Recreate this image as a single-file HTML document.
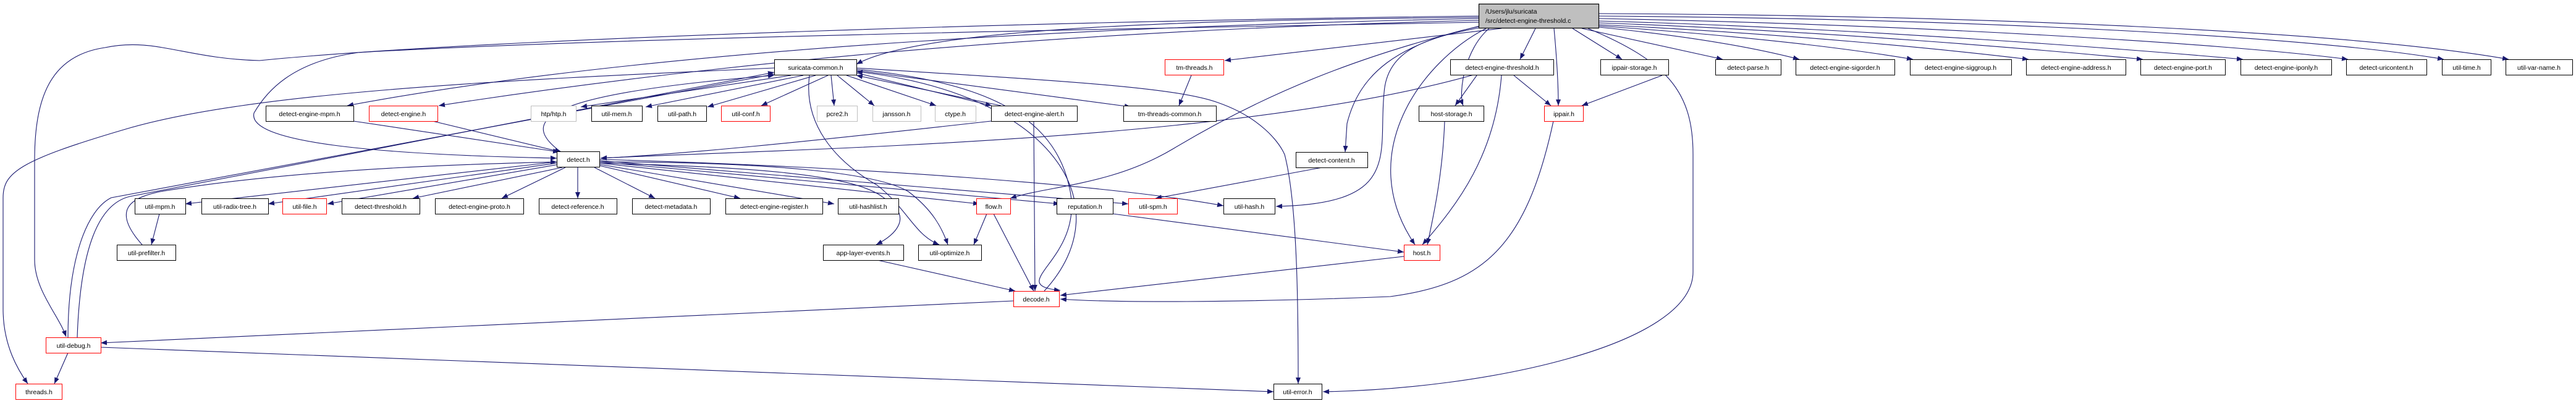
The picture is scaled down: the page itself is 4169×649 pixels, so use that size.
<!DOCTYPE html>
<html><head><meta charset="utf-8"><style>
html,body{margin:0;padding:0;background:#fff;}
svg{display:block;}
text{font-family:"Liberation Sans",sans-serif;font-size:10.5px;fill:#000;}
</style></head><body>
<svg width="4169" height="649" viewBox="0 0 4169 649" xmlns="http://www.w3.org/2000/svg">
<defs>
<marker id="a" markerWidth="10" markerHeight="8" refX="10" refY="4" orient="auto" markerUnits="userSpaceOnUse">
<path d="M0,0 L10,4 L0,8 Z" fill="#191970"/>
</marker>
</defs>
<g fill="none" stroke="#191970" stroke-width="1.1" marker-end="url(#a)">
<path d="M2588,22 C3200,25 3800,50 4060,96"/>
<path d="M2588,26 C3200,30 3750,60 3955,96"/>
<path d="M2588,30 C3100,40 3600,70 3800,96"/>
<path d="M2588,34 C3000,45 3450,80 3630,96"/>
<path d="M2588,37 C2950,50 3300,80 3468,96"/>
<path d="M2588,40 C2900,55 3150,80 3283,96"/>
<path d="M2588,42 C2850,60 3000,80 3096,96"/>
<path d="M2588,44 C2750,60 2850,80 2912,96"/>
<path d="M2560,46 L2788,96"/>
<path d="M2545,46 L2625,96"/>
<path d="M2515,46 C2520,100 2522,140 2522,171"/>
<path d="M2485,46 L2460,96"/>
<path d="M2430,46 L1982,98"/>
<path d="M2410,46 C2370,80 2360,150 2368,171"/>
<path d="M2405,46 C2300,100 2190,250 2290,396"/>
<path d="M2400,44 C2310,60 2245,80 2240,150 C2230,250 2270,330 2065,334"/>
<path d="M2398,42 C2260,70 2200,120 2180,200 L2177,246"/>
<path d="M2395,42 C2200,90 2050,150 1900,240 C1800,300 1700,300 1635,321"/>
<path d="M2570,46 C2700,100 2740,150 2740,250 L2740,440 C2740,560 2400,630 2141,634"/>
<path d="M2393,28 C2000,32 1500,40 1386,104"/>
<path d="M2393,30 C1900,40 1100,70 562,171"/>
<path d="M2393,33 C1900,45 1300,80 710,171"/>
<path d="M2393,26 C1800,32 800,60 420,98 C300,95 250,60 170,77 C80,90 56,160 56,260 L56,420 C56,470 95,510 107,545"/>
<path d="M2393,36 C1900,45 1000,60 580,85 C470,100 430,150 411,183 C400,230 600,250 901,256"/>
<path d="M2385,121 C2000,230 1300,240 972,256"/>
<path d="M2390,122 L2355,171"/>
<path d="M2430,122 C2420,250 2360,330 2302,396"/>
<path d="M2450,122 L2510,171"/>
<path d="M2338,196 C2335,280 2320,350 2310,396"/>
<path d="M2690,122 L2560,171"/>
<path d="M2514,196 C2470,400 2400,460 2250,480 C2000,490 1800,490 1716,484"/>
<path d="M2272,415 L1716,478"/>
<path d="M1928,122 L1908,171"/>
<path d="M1253,110 C800,130 400,150 200,210 C30,260 5,280 5,320 L5,500 C5,560 30,600 45,621"/>
<path d="M1280,122 L940,173"/>
<path d="M1300,122 L1045,173"/>
<path d="M1320,122 L1145,173"/>
<path d="M1340,122 L1232,171"/>
<path d="M1345,122 L1350,171"/>
<path d="M1355,122 L1415,171"/>
<path d="M1370,122 L1515,171"/>
<path d="M1386,118 L1605,171"/>
<path d="M1386,114 L1830,173"/>
<path d="M1386,112 C1560,130 1700,170 1730,300 C1760,420 1620,460 1716,470"/>
<path d="M1386,110 C1700,130 1900,140 1971,166 C2040,190 2070,230 2079,250 C2100,330 2101,500 2101,621"/>
<path d="M1310,122 C1300,200 1350,260 1420,300 C1470,340 1480,380 1520,396"/>
<path d="M125,546 C130,400 160,330 210,318 L1253,117"/>
<path d="M110,546 C110,420 140,340 180,320 L1253,120"/>
<path d="M908,246 C830,190 900,150 1253,122"/>
<path d="M1620,171 L1386,122"/>
<path d="M1690,471 C1820,330 1700,150 1386,116"/>
<path d="M230,396 C180,340 210,320 260,310 C500,270 800,265 901,262"/>
<path d="M572,196 L905,246"/>
<path d="M700,196 L908,246"/>
<path d="M1604,196 C1300,230 1100,250 972,256"/>
<path d="M901,262 L300,330"/>
<path d="M901,264 L434,330"/>
<path d="M905,266 L530,330"/>
<path d="M910,271 L668,321"/>
<path d="M915,271 L812,321"/>
<path d="M935,271 L935,321"/>
<path d="M962,271 L1060,321"/>
<path d="M970,268 L1198,321"/>
<path d="M970,266 L1350,330"/>
<path d="M970,264 L1585,330"/>
<path d="M970,262 L1715,330"/>
<path d="M970,260 L1826,330"/>
<path d="M970,258 C1400,270 1800,300 1980,333"/>
<path d="M970,264 C1200,270 1380,280 1430,320 C1480,350 1450,380 1418,396"/>
<path d="M970,262 C1250,262 1420,280 1470,310 C1510,340 1525,370 1534,396"/>
<path d="M2140,271 L1870,321"/>
<path d="M258,346 L245,396"/>
<path d="M1597,346 L1576,396"/>
<path d="M1608,346 L1673,471"/>
<path d="M1801,346 L2272,408"/>
<path d="M1420,421 L1643,471"/>
<path d="M1673,196 L1675,471"/>
<path d="M1640,487 L163,555"/>
<path d="M163,562 L2061,634"/>
<path d="M110,571 L88,621"/>
</g>
<g stroke-width="1.2">
<rect x="2393.5" y="6.5" width="194" height="39" fill="#bfbfbf" stroke="#000"/>
<text x="2404" y="22">/Users/jlu/suricata</text>
<text x="2404" y="37">/src/detect-engine-threshold.c</text>
</g>
<g font-size="10.5">
<rect x="1253.5" y="96.5" width="133" height="25" fill="#fff" stroke="#000"/><text x="1320" y="113" text-anchor="middle">suricata-common.h</text>
<rect x="1885.5" y="96.5" width="95" height="25" fill="#fff" stroke="#f00"/><text x="1933" y="113" text-anchor="middle">tm-threads.h</text>
<rect x="2347.5" y="96.5" width="167" height="25" fill="#fff" stroke="#000"/><text x="2431" y="113" text-anchor="middle">detect-engine-threshold.h</text>
<rect x="2590.5" y="96.5" width="110" height="25" fill="#fff" stroke="#000"/><text x="2645" y="113" text-anchor="middle">ippair-storage.h</text>
<rect x="2776.5" y="96.5" width="106" height="25" fill="#fff" stroke="#000"/><text x="2829" y="113" text-anchor="middle">detect-parse.h</text>
<rect x="2906.5" y="96.5" width="160" height="25" fill="#fff" stroke="#000"/><text x="2986" y="113" text-anchor="middle">detect-engine-sigorder.h</text>
<rect x="3091.5" y="96.5" width="164" height="25" fill="#fff" stroke="#000"/><text x="3173" y="113" text-anchor="middle">detect-engine-siggroup.h</text>
<rect x="3279.5" y="96.5" width="161" height="25" fill="#fff" stroke="#000"/><text x="3360" y="113" text-anchor="middle">detect-engine-address.h</text>
<rect x="3464.5" y="96.5" width="137" height="25" fill="#fff" stroke="#000"/><text x="3533" y="113" text-anchor="middle">detect-engine-port.h</text>
<rect x="3626.5" y="96.5" width="147" height="25" fill="#fff" stroke="#000"/><text x="3700" y="113" text-anchor="middle">detect-engine-iponly.h</text>
<rect x="3797.5" y="96.5" width="130" height="25" fill="#fff" stroke="#000"/><text x="3862" y="113" text-anchor="middle">detect-uricontent.h</text>
<rect x="3952.5" y="96.5" width="79" height="25" fill="#fff" stroke="#000"/><text x="3992" y="113" text-anchor="middle">util-time.h</text>
<rect x="4055.5" y="96.5" width="108" height="25" fill="#fff" stroke="#000"/><text x="4109" y="113" text-anchor="middle">util-var-name.h</text>

<rect x="430.5" y="171.5" width="142" height="25" fill="#fff" stroke="#000"/><text x="501" y="188" text-anchor="middle">detect-engine-mpm.h</text>
<rect x="597.5" y="171.5" width="111" height="25" fill="#fff" stroke="#f00"/><text x="653" y="188" text-anchor="middle">detect-engine.h</text>
<rect x="859.5" y="171.5" width="73" height="25" fill="#fff" stroke="#bfbfbf"/><text x="896" y="188" text-anchor="middle">htp/htp.h</text>
<rect x="957.5" y="171.5" width="82" height="25" fill="#fff" stroke="#000"/><text x="998" y="188" text-anchor="middle">util-mem.h</text>
<rect x="1064.5" y="171.5" width="79" height="25" fill="#fff" stroke="#000"/><text x="1104" y="188" text-anchor="middle">util-path.h</text>
<rect x="1167.5" y="171.5" width="79" height="25" fill="#fff" stroke="#f00"/><text x="1207" y="188" text-anchor="middle">util-conf.h</text>
<rect x="1322.5" y="171.5" width="65" height="25" fill="#fff" stroke="#bfbfbf"/><text x="1355" y="188" text-anchor="middle">pcre2.h</text>
<rect x="1412.5" y="171.5" width="78" height="25" fill="#fff" stroke="#bfbfbf"/><text x="1451" y="188" text-anchor="middle">jansson.h</text>
<rect x="1513.5" y="171.5" width="66" height="25" fill="#fff" stroke="#bfbfbf"/><text x="1546" y="188" text-anchor="middle">ctype.h</text>
<rect x="1604.5" y="171.5" width="139" height="25" fill="#fff" stroke="#000"/><text x="1674" y="188" text-anchor="middle">detect-engine-alert.h</text>
<rect x="1818.5" y="171.5" width="150" height="25" fill="#fff" stroke="#000"/><text x="1893" y="188" text-anchor="middle">tm-threads-common.h</text>
<rect x="2296.5" y="171.5" width="105" height="25" fill="#fff" stroke="#000"/><text x="2349" y="188" text-anchor="middle">host-storage.h</text>
<rect x="2499.5" y="171.5" width="63" height="25" fill="#fff" stroke="#f00"/><text x="2531" y="188" text-anchor="middle">ippair.h</text>

<rect x="901.5" y="245.5" width="69" height="25" fill="#fff" stroke="#000"/><text x="936" y="262" text-anchor="middle">detect.h</text>
<rect x="2097.5" y="246.5" width="116" height="25" fill="#fff" stroke="#000"/><text x="2155" y="263" text-anchor="middle">detect-content.h</text>

<rect x="218.5" y="321.5" width="82" height="25" fill="#fff" stroke="#000"/><text x="259" y="338" text-anchor="middle">util-mpm.h</text>
<rect x="326.5" y="321.5" width="108" height="25" fill="#fff" stroke="#000"/><text x="380" y="338" text-anchor="middle">util-radix-tree.h</text>
<rect x="457.5" y="321.5" width="71" height="25" fill="#fff" stroke="#f00"/><text x="493" y="338" text-anchor="middle">util-file.h</text>
<rect x="553.5" y="321.5" width="126" height="25" fill="#fff" stroke="#000"/><text x="616" y="338" text-anchor="middle">detect-threshold.h</text>
<rect x="704.5" y="321.5" width="143" height="25" fill="#fff" stroke="#000"/><text x="776" y="338" text-anchor="middle">detect-engine-proto.h</text>
<rect x="872.5" y="321.5" width="126" height="25" fill="#fff" stroke="#000"/><text x="935" y="338" text-anchor="middle">detect-reference.h</text>
<rect x="1023.5" y="321.5" width="126" height="25" fill="#fff" stroke="#000"/><text x="1086" y="338" text-anchor="middle">detect-metadata.h</text>
<rect x="1174.5" y="321.5" width="157" height="25" fill="#fff" stroke="#000"/><text x="1253" y="338" text-anchor="middle">detect-engine-register.h</text>
<rect x="1356.5" y="321.5" width="98" height="25" fill="#fff" stroke="#000"/><text x="1405" y="338" text-anchor="middle">util-hashlist.h</text>
<rect x="1580.5" y="321.5" width="55" height="25" fill="#fff" stroke="#f00"/><text x="1608" y="338" text-anchor="middle">flow.h</text>
<rect x="1710.5" y="321.5" width="91" height="25" fill="#fff" stroke="#000"/><text x="1756" y="338" text-anchor="middle">reputation.h</text>
<rect x="1826.5" y="321.5" width="79" height="25" fill="#fff" stroke="#f00"/><text x="1866" y="338" text-anchor="middle">util-spm.h</text>
<rect x="1980.5" y="321.5" width="83" height="25" fill="#fff" stroke="#000"/><text x="2022" y="338" text-anchor="middle">util-hash.h</text>

<rect x="189.5" y="396.5" width="95" height="25" fill="#fff" stroke="#000"/><text x="237" y="413" text-anchor="middle">util-prefilter.h</text>
<rect x="1332.5" y="396.5" width="130" height="25" fill="#fff" stroke="#000"/><text x="1397" y="413" text-anchor="middle">app-layer-events.h</text>
<rect x="1486.5" y="396.5" width="102" height="25" fill="#fff" stroke="#000"/><text x="1537" y="413" text-anchor="middle">util-optimize.h</text>
<rect x="2272.5" y="396.5" width="58" height="25" fill="#fff" stroke="#f00"/><text x="2301" y="413" text-anchor="middle">host.h</text>

<rect x="1640.5" y="471.5" width="74" height="25" fill="#fff" stroke="#f00"/><text x="1677" y="488" text-anchor="middle">decode.h</text>
<rect x="74.5" y="546.5" width="89" height="25" fill="#fff" stroke="#f00"/><text x="119" y="563" text-anchor="middle">util-debug.h</text>
<rect x="25.5" y="621.5" width="75" height="25" fill="#fff" stroke="#f00"/><text x="63" y="638" text-anchor="middle">threads.h</text>
<rect x="2061.5" y="621.5" width="78" height="25" fill="#fff" stroke="#000"/><text x="2100" y="638" text-anchor="middle">util-error.h</text>
</g>
</svg>
</body></html>
